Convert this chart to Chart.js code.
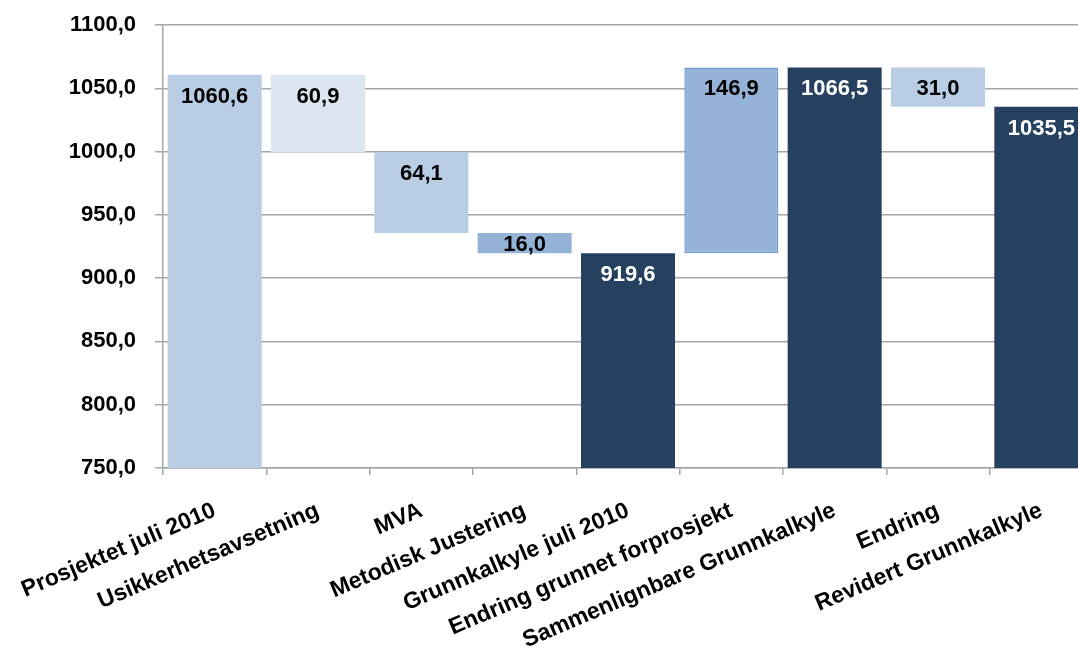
<!DOCTYPE html>
<html>
<head>
<meta charset="utf-8">
<title>Grunnkalkyle</title>
<script src="https://cdn.jsdelivr.net/npm/chart.js@4/dist/chart.umd.min.js"></script>
<style>
  html, body { margin: 0; padding: 0; background: #fff; overflow: hidden; }
  #wrap { width: 1093px; height: 660px; }
</style>
</head>
<body>
<div id="wrap"><canvas id="kalkyle"></canvas></div>
<script>
// Kategorier i fossefallet
const categories = [
  "Prosjektet juli 2010",
  "Usikkerhetsavsetning",
  "MVA",
  "Metodisk Justering",
  "Grunnkalkyle juli 2010",
  "Endring grunnet forprosjekt",
  "Sammenlignbare Grunnkalkyle",
  "Endring",
  "Revidert Grunnkalkyle",
];
// Summer (true) og endringer (false)
const isTotal = [true, false, false, false, true, false, true, false, true];
// Verdier i mill. kr, negative tall er reduksjoner
const amounts = [1060.6, -60.9, -64.1, -16.0, 919.6, 146.9, 1066.5, -31.0, 1035.5];
const barColors = ["#b9cde5", "#dce6f2", "#b9cde5", "#95b3d7", "#26405f", "#95b3d7", "#26405f", "#b9cde5", "#26405f"];
const yTicks = { min: 750, max: 1100, step: 50 };

const FONT = "'Liberation Sans', Arial, sans-serif";

// Bygger flytende stolper [fra, til]
function buildBars() {
  let level = 0;
  return amounts.map((v, i) => {
    if (isTotal[i]) {
      level = v;
      return [yTicks.min, v];
    }
    const from = level;
    level = Math.round((level + v) * 10) / 10;
    return [Math.min(from, level), Math.max(from, level)];
  });
}

const fmt = (v) => v.toFixed(1).replace(".", ",");

// Verdietiketter inne i toppen av hver stolpe
const barLabels = {
  id: "barLabels",
  afterDatasetsDraw(chart) {
    const ctx = chart.ctx;
    const meta = chart.getDatasetMeta(0);
    ctx.save();
    ctx.font = "bold 22px " + FONT;
    ctx.textAlign = "center";
    ctx.textBaseline = "middle";
    meta.data.forEach((bar, i) => {
      const top = Math.min(bar.y, bar.base);
      const h = Math.abs(bar.base - bar.y);
      ctx.fillStyle = barColors[i] === "#26405f" ? "#ffffff" : "#000000";
      ctx.fillText(fmt(Math.abs(amounts[i])), bar.x, top + Math.min(22, h / 2 + 2));
    });
    ctx.restore();
  },
};

new Chart(document.getElementById("kalkyle").getContext("2d"), {
  type: "bar",
  data: {
    labels: categories,
    datasets: [
      {
        data: buildBars(),
        backgroundColor: barColors,
        borderColor: barColors.map((c, i) => (i === 5 ? "#6f9bd3" : c)),
        borderWidth: barColors.map((c, i) => (i === 5 ? 1.5 : 0)),
        borderSkipped: false,
        barPercentage: 0.91,
        categoryPercentage: 1.0,
      },
    ],
  },
  options: {
    responsive: true,
    maintainAspectRatio: false,
    animation: false,
    layout: { padding: { top: 25, right: 0, left: 0, bottom: 0 } },
    plugins: {
      legend: { display: false },
      tooltip: { enabled: false },
    },
    scales: {
      x: {
        grid: {
          offset: true,
          drawOnChartArea: false,
          color: "#a6a6a6",
          lineWidth: 1.5,
          tickLength: 7,
        },
        border: { color: "#a6a6a6", width: 1.5 },
        ticks: {
          color: "#000",
          font: { family: FONT, size: 23, weight: "bold" },
          minRotation: 23,
          maxRotation: 23,
          autoSkip: false,
          padding: 22,
        },
        afterFit(axis) {
          axis.height = 660 - 468;
          axis.paddingLeft = 0;
          axis.paddingRight = 0;
        },
      },
      y: {
        min: yTicks.min,
        max: yTicks.max,
        grid: { color: "#a6a6a6", lineWidth: 1.5, tickLength: 8 },
        border: { color: "#a6a6a6", width: 1.5 },
        ticks: {
          stepSize: yTicks.step,
          color: "#000",
          padding: 19,
          font: { family: FONT, size: 22, weight: "bold" },
          callback: (v) => fmt(v),
        },
        afterFit(axis) {
          axis.width = 163;
          axis.paddingTop = 0;
          axis.paddingBottom = 0;
        },
      },
    },
  },
  plugins: [barLabels],
});
</script>
</body>
</html>
